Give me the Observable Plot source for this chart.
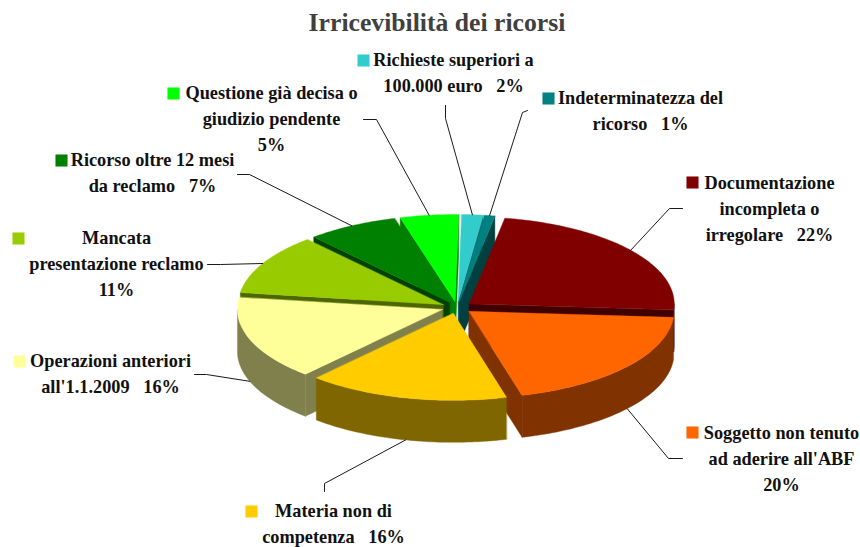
<!DOCTYPE html>
<html><head><meta charset="utf-8">
<script src="https://cdn.jsdelivr.net/npm/d3@7"></script>
<script src="https://cdn.jsdelivr.net/npm/@observablehq/plot@0.6"></script>
<style>
html,body{margin:0;padding:0;background:#fff;overflow:hidden}
#t{position:absolute;left:0;top:0;width:874px;height:40px;text-align:center;font:bold 25.7px/45px "Liberation Serif",serif;color:#404040}
#c{position:absolute;left:0;top:40px}
svg{display:block}
</style></head><body>
<div id="t">Irricevibilità dei ricorsi</div>
<div id="c"></div>
<script>
const categories = ["Documentazione incompleta o irregolare","Soggetto non tenuto ad aderire all'ABF","Materia non di competenza","Operazioni anteriori all'1.1.2009","Mancata presentazione reclamo","Ricorso oltre 12 mesi da reclamo","Questione già decisa o giudizio pendente","Richieste superiori a 100.000 euro","Indeterminatezza del ricorso"];
const printedPercent = [22,20,16,16,11,7,5,2,1];
// shares as the slices are actually drawn in the picture (sum 100)
const drawnShare = [23.33,19.72,15.83,15.56,11.25,7.22,4.59,1.67,0.83];
const colors = ["#800000","#FF6600","#FFCC00","#FFFF99","#99CC00","#008000","#00FF00","#33CCCC","#008080"];
const labelLines = [
 ["Documentazione","incompleta o","irregolare   22%"],
 ["Soggetto non tenuto","ad aderire all'ABF","20%"],
 ["Materia non di","competenza   16%"],
 ["Operazioni anteriori","all'1.1.2009   16%"],
 ["Mancata","presentazione reclamo","11%"],
 ["Ricorso oltre 12 mesi","da reclamo   7%"],
 ["Questione già decisa o","giudizio pendente","5%"],
 ["Richieste superiori a","100.000 euro   2%"],
 ["Indeterminatezza del","ricorso   1%"]
];
// layout: label centre x, first line y, swatch x, elbow points of the leader
const layout = [
 {cx:769,y0:183,sx:692,sy:182,lead:[[682,208],[669,208]]},
 {cx:781,y0:433,sx:692,sy:432,lead:[[682,458],[668,458]]},
 {cx:333,y0:511,sx:251,sy:511,lead:[[324,491],[324,483]]},
 {cx:110,y0:361,sx:19,sy:361,lead:[[194,374],[206,374]]},
 {cx:116,y0:238,sx:18,sy:238,lead:[[207,264],[220,264]]},
 {cx:152,y0:160,sx:61,sy:160,lead:[[237,174],[249,174]]},
 {cx:271,y0:93,sx:173,sy:93,lead:[[363,119],[376,119]]},
 {cx:453,y0:60,sx:363,sy:60,lead:[[445,105],[445,118]]},
 {cx:640,y0:98,sx:548,sy:98,lead:[[527,110],[522,112]]}
];
const pie = {cx:456.5,cy:307,rx:205,ry:87,depth:42,ex:15.5,ey:6,start:10};
const rad = d => d*Math.PI/180;
const pt = (s,a,r=1,dz=0) => ({x:s.ax+pie.rx*r*Math.sin(rad(a)), y:s.ay-pie.ry*r*Math.cos(rad(a))+dz});
let acc = pie.start;
const slices = drawnShare.map((v,i)=>{
  const a0=acc, a1=acc+v*3.6; acc=a1; const mid=(a0+a1)/2;
  return {i,a0,a1,mid,color:colors[i],
    ax:pie.cx+pie.ex*Math.sin(rad(mid)), ay:pie.cy-pie.ey*Math.cos(rad(mid))};
});
const dark = c => { const k=d3.rgb(c); return d3.rgb(k.r*.5,k.g*.5,k.b*.5).formatHex(); };
const arc = (s,a0,a1,dz=0) => { const n=Math.max(2,Math.ceil(Math.abs(a1-a0))); return d3.range(n+1).map(j=>pt(s,a0+(a1-a0)*j/n,1,dz)); };
const poly = (pts,fill) => Plot.line(pts,{x:"x",y:"y",fill,stroke:fill,strokeWidth:0.4,curve:"linear-closed"});
const marks = [];
const order = [6,7,8,5,0,4,3,1,2];
for (const i of order) {
  const s = slices[i], apex={x:s.ax,y:s.ay}, apexB={x:s.ax,y:s.ay+pie.depth}, d=dark(s.color);
  const wall = a => { const p=pt(s,a); return [apex,p,{x:p.x,y:p.y+pie.depth},apexB]; };
  const aEnd = ((s.a1%360)+360)%360, aStart=((s.a0%360)+360)%360;
  if (Math.sin(rad(aStart))<0) marks.push(poly(wall(s.a0),d));
  if (Math.sin(rad(aEnd))>0) marks.push(poly(wall(s.a1),d));
  const lo=Math.max(s.a0,90), hi=Math.min(s.a1,270);
  if (hi>lo) marks.push(poly([...arc(s,lo,hi),...arc(s,hi,lo,pie.depth)],d));
  marks.push(poly([apex,...arc(s,s.a0,s.a1)],s.color));
}
// leaders: the typed elbow, then the outer edge of the slice at its mid angle
const leaders = slices.flatMap((s,i)=>{
  const front = Math.cos(rad(s.mid))<0;
  const a = pt(s,s.mid,1,front?pie.depth:0);
  return [...layout[i].lead.map(([x,y])=>({x,y,i})),{x:a.x,y:a.y,i}];
});
marks.push(Plot.line(leaders,{x:"x",y:"y",z:"i",stroke:"#1a1a1a",strokeWidth:1,curve:"linear"}));
const textRows = labelLines.flatMap((ls,i)=>ls.map((t,j)=>({t,x:layout[i].cx,y:layout[i].y0+j*25.7})));
marks.push(Plot.text(textRows,{x:"x",y:"y",text:"t",textAnchor:"middle",lineAnchor:"middle",fontFamily:"Liberation Serif",fontWeight:"bold",fontSize:18.3,fill:"#111",style:{whiteSpace:"pre"}}));
marks.push(Plot.dot(layout.map((l,i)=>({x:l.sx,y:l.sy,c:colors[i]})),{x:"x",y:"y",symbol:"square",r:6.8,fill:d=>d.c,stroke:"none"}));
const chart = Plot.plot({width:860,height:507,margin:0,
  x:{domain:[0,860],range:[0,860],axis:null},
  y:{domain:[40,547],range:[0,507],axis:null},
  color:{type:"identity"},
  marks});
document.getElementById("c").append(chart);
</script></body></html>
